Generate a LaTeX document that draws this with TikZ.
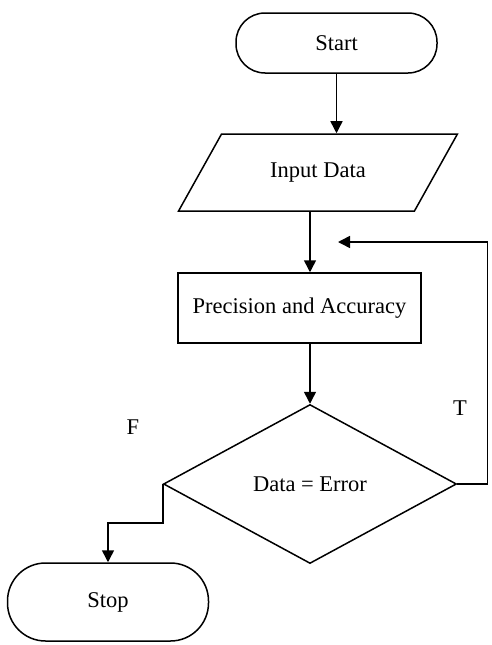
\documentclass[tikz,border=0pt]{standalone}
\usepackage{fontspec}
\setmainfont{Liberation Serif}
\usetikzlibrary{arrows.meta,positioning,shapes.geometric}

\begin{document}
\begin{tikzpicture}[x=1pt, y=-1pt, >={Triangle[length=12pt,width=12pt]}, line width=1.5pt,
  term/.style={draw, rounded corners=29pt, minimum width=201pt, minimum height=60pt, font=\fontsize{22.5}{27}\selectfont},
  io/.style={draw, trapezium, trapezium left angle=42.5, trapezium right angle=137.5, trapezium stretches=true, minimum width=279pt, minimum height=77pt, inner sep=0pt, font=\fontsize{22.5}{27}\selectfont},
  proc/.style={draw, rectangle, minimum width=243pt, minimum height=70pt, font=\fontsize{22.5}{27}\selectfont},
  cond/.style={draw, diamond, minimum width=293pt, minimum height=159pt, inner sep=0pt, font=\fontsize{22.5}{27}\selectfont},
  lbl/.style={font=\fontsize{22.5}{27}\selectfont}]
\useasboundingbox (0,0) rectangle (491,645);
\node[term] (start) at (336.5,43) {Start};
\node[io] (input) at (318,172.5) {Input Data};
\node[proc] (prec) at (299.5,308) {Precision and Accuracy};
\node[cond] (check) at (310,484) {Data = Error};
\node[term, minimum height=78pt, rounded corners=38pt] (stop) at (108,602) {Stop};
\node[lbl] (f) at (133,427) {F};
\node[lbl] (t) at (460,408) {T};
\coordinate (back) at (338,242);
% connectors
\draw[->] (start.south) -- (start.south |- input.north);
\draw[->] (input.south -| check.north) -- (prec.north -| check.north);
\draw[->] (prec.south -| check.north) -- (check.north);
\draw[->] (check.east) -- ++(30,0) |- (back);
\draw[->] (check.west) -- ++(0,39) -| (stop.north);
\end{tikzpicture}
\end{document}
